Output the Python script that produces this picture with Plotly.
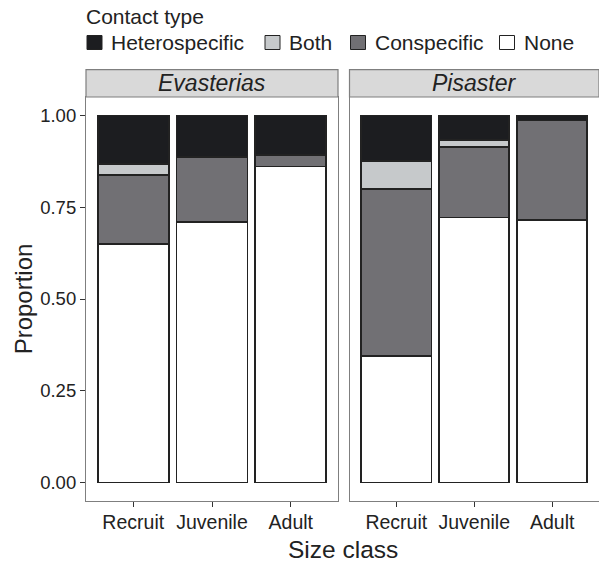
import plotly.graph_objects as go

# Proportion of sea stars in each contact type, by species and size class
size_classes = ["Recruit", "Juvenile", "Adult"]
species = ["Evasterias", "Pisaster"]

contact_types = ["None", "Conspecific", "Both", "Heterospecific"]
contact_colors = ["#ffffff", "#717074", "#c6c9cb", "#1c1d20"]

evasterias_props = {
    "None":           [0.649, 0.710, 0.861],
    "Conspecific":    [0.188, 0.176, 0.032],
    "Both":           [0.030, 0.000, 0.000],
    "Heterospecific": [0.133, 0.114, 0.107],
}
pisaster_props = {
    "None":           [0.344, 0.722, 0.716],
    "Conspecific":    [0.455, 0.191, 0.270],
    "Both":           [0.077, 0.020, 0.000],
    "Heterospecific": [0.124, 0.067, 0.014],
}

y_ticks = [0.0, 0.25, 0.5, 0.75, 1.0]
y_tick_text = ["0.00", "0.25", "0.50", "0.75", "1.00"]

W, H = 599, 564
ML, MR, MT, MB = 86, 0, 97, 63
PW, PH = W - ML - MR, H - MT - MB


def px_x(px):
    return (px - ML) / PW


def px_y(py):
    return (H - MB - py) / PH


FONT = "Liberation Sans, Arial, Helvetica, sans-serif"
TEXT_COL = "#222222"
BORDER = "#7f7f7f"

fig = go.Figure()
for props, xa, ya in [(evasterias_props, "x", "y"), (pisaster_props, "x2", "y2")]:
    for name, col in zip(contact_types, contact_colors):
        fig.add_trace(go.Bar(
            x=size_classes, y=props[name], name=name,
            marker=dict(color=col, line=dict(color="#222222", width=1.7)),
            width=0.9, xaxis=xa, yaxis=ya, showlegend=False,
        ))

d1 = px_x(338)
d2 = px_x(349.5)

axis_common = dict(
    showline=True, mirror=True, linecolor=BORDER, linewidth=1.2,
    showgrid=False, zeroline=False,
    ticks="outside", ticklen=5, tickwidth=1.2, tickcolor="#333333",
)
x_tickfont = dict(family=FONT, size=19.5, color=TEXT_COL)
y_tickfont = dict(family=FONT, size=18.5, color=TEXT_COL)

fig.update_layout(
    width=W, height=H,
    margin=dict(l=ML, r=MR, t=MT, b=MB),
    paper_bgcolor="white", plot_bgcolor="white",
    barmode="stack", bargap=0.1,
    showlegend=False,
    xaxis=dict(domain=[0, d1], range=[-0.6, 2.6], tickfont=x_tickfont,
               ticklabelstandoff=-2, **axis_common),
    xaxis2=dict(domain=[d2, 1], range=[-0.6, 2.6], anchor="y2", tickfont=x_tickfont,
                ticklabelstandoff=-2, **axis_common),
    yaxis=dict(range=[-0.05, 1.05], tickvals=y_ticks, ticktext=y_tick_text,
               tickfont=y_tickfont,
               title=dict(text="Proportion", font=dict(family=FONT, size=24, color=TEXT_COL),
                          standoff=0),
               **axis_common),
    yaxis2=dict(range=[-0.05, 1.05], anchor="x2", matches="y",
                showticklabels=False, **{k: v for k, v in axis_common.items()
                                         if k != "ticks"}, ticks=""),
)

# facet strips
strip_top = px_y(69.7)
shapes = []
annotations = []
for (x0, x1), label in zip([(0, d1), (d2, 1)], species):
    shapes.append(dict(type="rect", xref="paper", yref="paper",
                       x0=x0, x1=x1, y0=1, y1=strip_top,
                       fillcolor="#d9d9d9", line=dict(color=BORDER, width=1.2),
                       layer="above"))
    annotations.append(dict(xref="paper", yref="paper", x=(x0 + x1) / 2,
                            y=(1 + strip_top) / 2, text=label, showarrow=False,
                            xanchor="center", yanchor="middle",
                            font=dict(family=FONT, size=23, color=TEXT_COL, style="italic")))

# x-axis title centred under both panels
annotations.append(dict(xref="paper", yref="paper", x=0.5, y=px_y(549),
                        text="Size class", showarrow=False,
                        xanchor="center", yanchor="middle",
                        font=dict(family=FONT, size=24.5, color=TEXT_COL)))

# legend: title row and key row
annotations.append(dict(xref="paper", yref="paper", x=px_x(84), y=px_y(16),
                        text="Contact type", showarrow=False,
                        xanchor="left", yanchor="middle",
                        font=dict(family=FONT, size=21, color=TEXT_COL)))
legend_order = ["Heterospecific", "Both", "Conspecific", "None"]
key_left = [87, 265, 350.5, 499.5]
for name, kx in zip(legend_order, key_left):
    col = contact_colors[contact_types.index(name)]
    shapes.append(dict(type="rect", xref="paper", yref="paper",
                       x0=px_x(kx), x1=px_x(kx + 15), y0=px_y(35.5), y1=px_y(49.5),
                       fillcolor=col, line=dict(color="#222222", width=1)))
    annotations.append(dict(xref="paper", yref="paper", x=px_x(kx + 22), y=px_y(42.5),
                            text=name, showarrow=False, xanchor="left", yanchor="middle",
                            font=dict(family=FONT, size=21, color=TEXT_COL)))

fig.update_layout(shapes=shapes, annotations=annotations)
fig.write_html("out.html")
